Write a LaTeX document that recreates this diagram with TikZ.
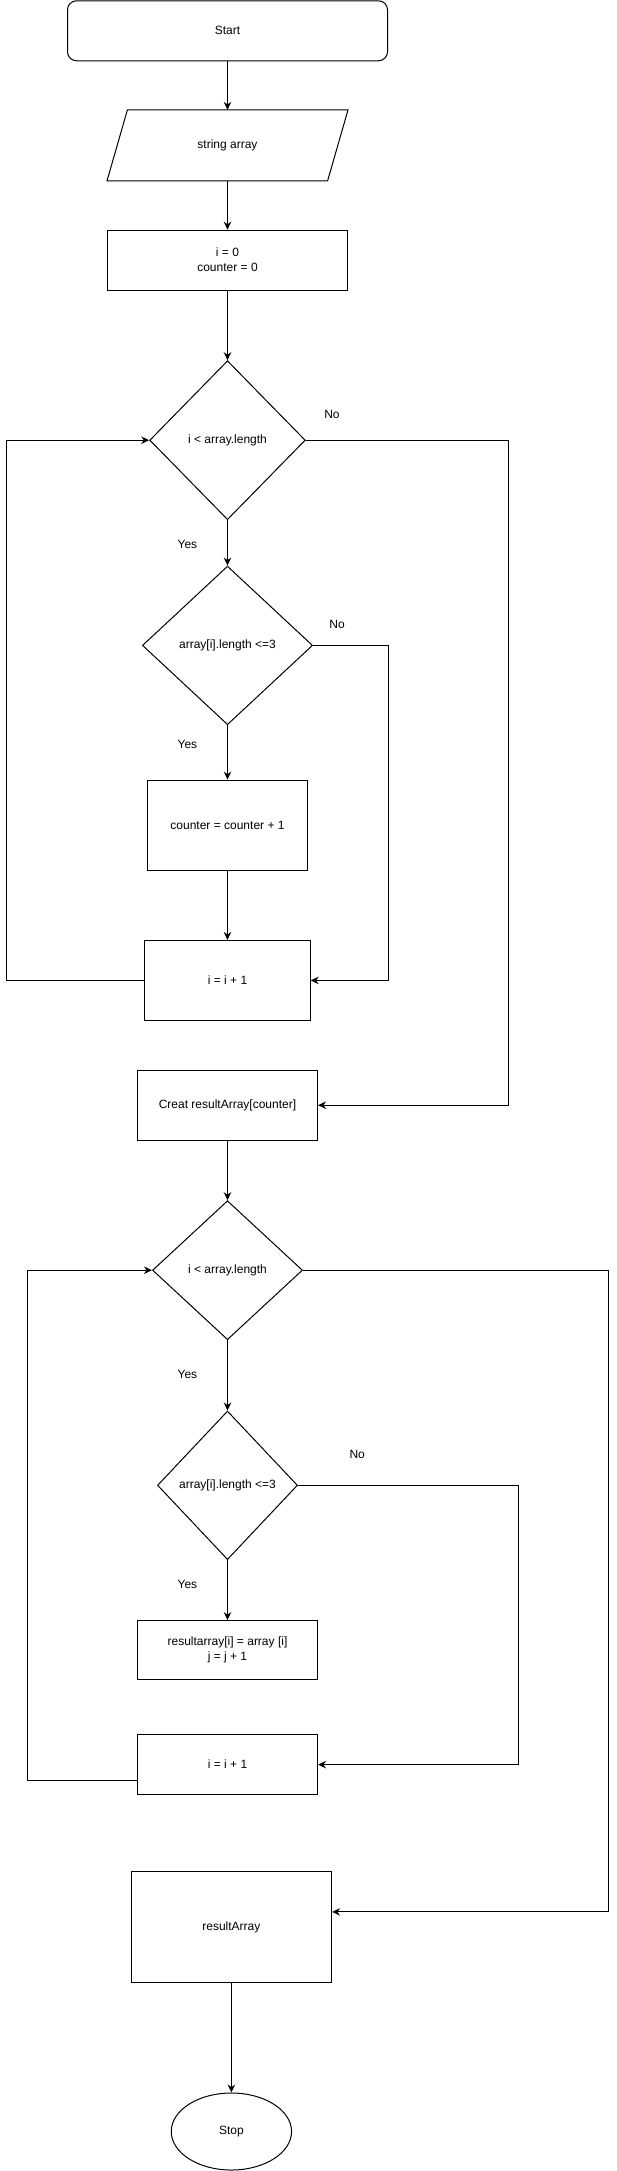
\documentclass[tikz,border=0pt]{standalone}
\usepackage{fontspec}
\setmainfont{Liberation Sans}
\usetikzlibrary{arrows.meta,shapes.geometric,calc}
\tikzset{
  proc/.style={draw, rectangle, fill=white},
  dec/.style={draw, diamond, aspect=1},
  arr/.style={-{Stealth[length=8pt,width=7.5pt]}, line width=1pt},
}
\begin{document}
\begin{tikzpicture}[x=1pt,y=-1pt,line width=1pt,
  every node/.style={font=\fontsize{12}{15}\selectfont, inner sep=0pt, align=center}]
\useasboundingbox (0,0) rectangle (616,2171);

\node[proc, rounded corners=9pt, minimum width=320pt, minimum height=60pt] (start) at (227.5,30.8) {Start};
\node[minimum width=240pt, minimum height=70pt] (inp) at (227.5,145.4) {string array};
\draw (inp.south west) -- ([xshift=20.4pt]inp.north west) -- (inp.north east) -- ([xshift=-20.4pt]inp.south east) -- cycle;
\node[proc, minimum width=240pt, minimum height=60pt] (init) at (227.5,260.2) {i = 0\\counter = 0};
\node[dec, minimum width=155.6pt, minimum height=159pt] (d1) at (227.5,440.2) {i < array.length};
\node[dec, minimum width=170.2pt, minimum height=158.6pt] (d2) at (227.5,645.4) {array[i].length <=3};
\node[proc, minimum width=160pt, minimum height=90pt] (cnt) at (227.5,825.1) {counter = counter + 1};
\node[proc, minimum width=165.4pt, minimum height=80pt] (inc1) at (227.5,980.4) {i = i + 1};
\node[proc, minimum width=180pt, minimum height=70pt] (creat) at (227.5,1105.2) {Creat resultArray[counter]};
\node[dec, minimum width=150pt, minimum height=139pt] (d3) at (227.5,1270.2) {i < array.length};
\node[dec, minimum width=140pt, minimum height=148.6pt] (d4) at (227.5,1485.3) {array[i].length <=3};
\node[proc, minimum width=180pt, minimum height=59.3pt] (ra) at (227.5,1650.2) {resultarray[i] = array [i]\\j = j + 1};
\node[proc, minimum width=180pt, minimum height=60.4pt] (inc2) at (227.5,1764.6) {i = i + 1};
\node[proc, minimum width=200.4pt, minimum height=110.8pt] (res) at (231.4,1926.9) {resultArray};
\node[draw, ellipse, minimum width=120.3pt, minimum height=77pt] (stop) at (231.4,2131.5) {Stop};

\node (no1) at (332,414.3) {No};
\node (yes1) at (187.4,544.6) {Yes};
\node (no2) at (337.1,624.2) {No};
\node (yes2) at (187.4,744.4) {Yes};
\node (yes3) at (187.4,1374.2) {Yes};
\node (no4) at (357.2,1454.5) {No};
\node (yes4) at (187.4,1584.6) {Yes};

\draw[arr] (start) -- (inp);
\draw[arr] (inp) -- (init);
\draw[arr] (init) -- (d1);
\draw[arr] (d1) -- (d2);
\draw[arr] (d2) -- (cnt);
\draw[arr] (cnt) -- (inc1);
\draw[arr] (d2.east) -- ++(75,0) |- (inc1.east);
\draw[arr] (inc1.west) -- ++(-137.5,0) |- (d1.west);
\draw[arr] (d1.east) -- ++(202.4,0) |- (creat.east);
\draw[arr] (creat) -- (d3);
\draw[arr] (d3) -- (d4);
\draw[arr] (d4) -- (ra);
\draw[arr] (d4.east) -- ++(220.1,0) |- (inc2.east);
\draw[arr] ([yshift=-16pt]inc2.west) -- ++(-110,0) |- (d3.west);
\draw[arr] (d3.east) -- ++(305.3,0) |- ([yshift=15pt]res.east);
\draw[arr] (res) -- (stop);
\end{tikzpicture}
\end{document}
